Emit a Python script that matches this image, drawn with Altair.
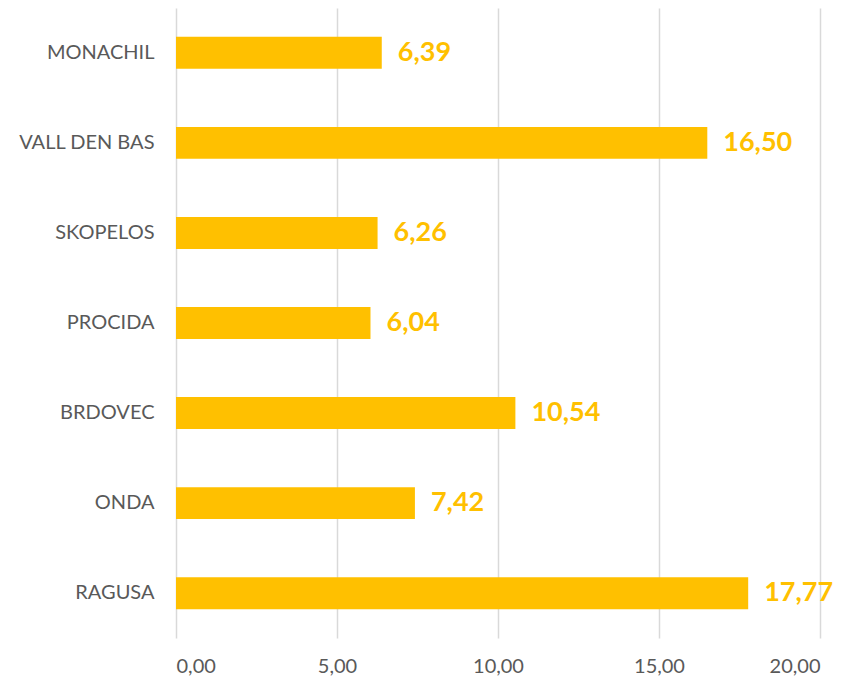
import altair as alt
import pandas as pd

towns = ["MONACHIL", "VALL DEN BAS", "SKOPELOS", "PROCIDA", "BRDOVEC", "ONDA", "RAGUSA"]
values = [6.39, 16.50, 6.26, 6.04, 10.54, 7.42, 17.77]
x_ticks = [0, 5, 10, 15, 20]

df = pd.DataFrame({"town": towns, "value": values})

FONT = "Lato"
BAR = "#FFC000"
GREY = "#595959"

y_enc = alt.Y("town:N", sort=towns, title=None,
              scale=alt.Scale(paddingInner=0.645, paddingOuter=0.32),
              axis=alt.Axis(domain=False, ticks=False, labelFont=FONT, labelFontSize=20,
                            labelColor=GREY, labelPadding=22, grid=False))
x_enc = alt.X("value:Q", title=None,
              scale=alt.Scale(domain=[0, 20], nice=False),
              axis=alt.Axis(values=x_ticks, domain=False, ticks=False, grid=True,
                            gridColor="#D9D9D9", gridWidth=1.5,
                            labelFont=FONT, labelFontSize=20, labelColor=GREY,
                            labelPadding=18,
                            labelExpr="replace(format(datum.value, '.2f'), '.', ',')"))

bars = alt.Chart(df).mark_bar(color=BAR).encode(x=x_enc, y=y_enc)

labels = alt.Chart(df).transform_calculate(
    lab="replace(format(datum.value, '.2f'), '.', ',')"
).mark_text(align="left", baseline="middle", dx=16, font=FONT, fontSize=27,
            fontWeight="bold", color=BAR).encode(
    x=alt.X("value:Q"), y=alt.Y("town:N", sort=towns), text="lab:N")

chart = alt.layer(bars, labels).properties(
    width=644, height=630,
    background="white",
    autosize=alt.AutoSizeParams(type="none"),
    padding={"left": 176, "top": 8, "right": 31, "bottom": 44},
).configure_view(stroke=None, strokeWidth=0)

chart.save("out.html", embed_options={"renderer": "svg", "actions": False})
